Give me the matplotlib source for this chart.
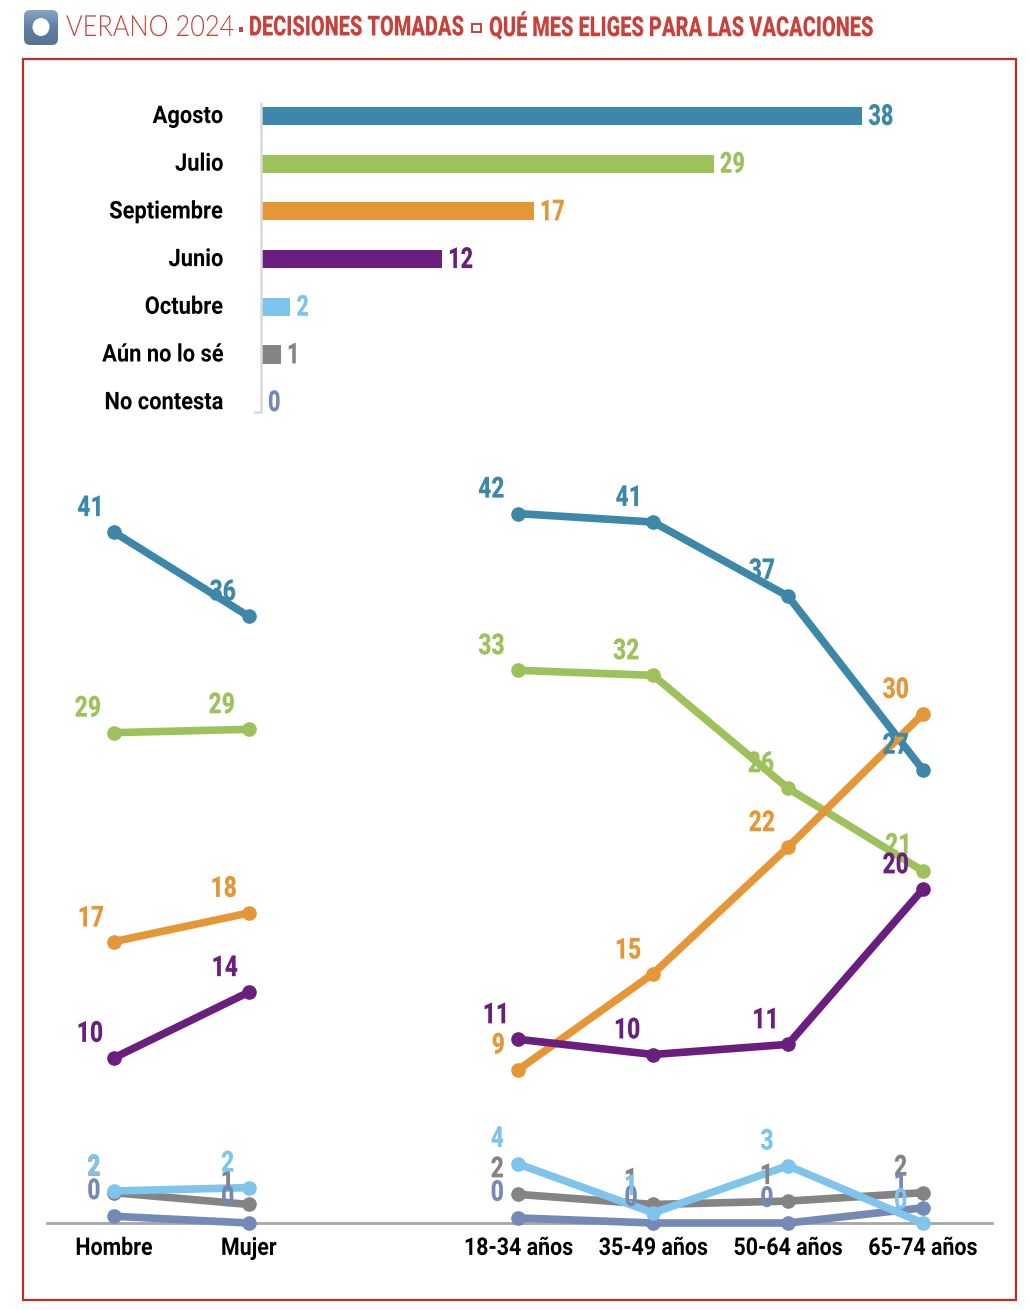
#!/usr/bin/env python3
"""Verano 2024: que mes eliges para las vacaciones (bars + slope lines)."""
import numpy as np
import matplotlib
matplotlib.use("Agg")
import matplotlib.pyplot as plt
from matplotlib.patches import FancyBboxPatch, Rectangle, Ellipse
from matplotlib.patheffects import AbstractPathEffect
from matplotlib.transforms import Affine2D, ScaledTranslation

W, H = 1030, 1310
RED, RED2 = "#B83224", "#C8413A"
TEAL, GREEN, ORANGE, PURPLE = "#3D88A8", "#9DC15B", "#E59737", "#6A1F7E"
SKY, GREY, SLATE = "#7EC4EC", "#848484", "#7489B5"
COLORS = [TEAL, GREEN, ORANGE, PURPLE, SKY, GREY, SLATE]
FONT = "Roboto"

# ---------- data ----------
CATS = ["Agosto", "Julio", "Septiembre", "Junio", "Octubre", "Aún no lo sé", "No contesta"]
BAR_VALS = [38.0, 28.6, 17.2, 11.4, 1.8, 1.2, 0.0]
BAR_TXT = ["38", "29", "17", "12", "2", "1", "0"]

GROUPS = ["Hombre", "Mujer", "18-34 años", "35-49 años", "50-64 años", "65-74 años"]
AGOSTO = [41.0, 36.0, 42.1, 41.6, 37.2, 26.9]
JULIO = [29.1, 29.3, 32.8, 32.5, 25.8, 20.9]
SEPTIEMBRE = [16.7, 18.4, 9.1, 14.8, 22.3, 30.2]
JUNIO = [9.8, 13.7, 10.9, 10.0, 10.6, 19.8]
OCTUBRE = [1.9, 2.1, 3.5, 0.6, 3.4, 0.0]
NOSE = [1.8, 1.1, 1.7, 1.1, 1.3, 1.8]
NC = [0.4, 0.0, 0.3, 0.0, 0.0, 0.9]
SERIES = [AGOSTO, JULIO, SEPTIEMBRE, JUNIO, OCTUBRE, NOSE, NC]
SHOWN = [[41, 36, 42, 41, 37, 27], [29, 29, 33, 32, 26, 21], [17, 18, 9, 15, 22, 30],
         [10, 14, 11, 10, 11, 20], [2, 2, 4, 1, 3, 0], [2, 1, 2, 1, 1, 2], [0, 0, 0, 0, 0, 1]]
XPOS = [0, 1, 3, 4, 5, 6]  # gap between the two panels

# label offsets from each point, pixels (dx, dy up)
OFFS = [[(-23, 24), (-26, 24), (-27, 24), (-24, 24), (-26, 25), (-27, 24)],
        [(-26, 24), (-27, 24), (-27, 24), (-27, 24), (-27, 24), (-24, 25)],
        [(-23, 23), (-25, 24), (-20, 24), (-25, 23), (-26, 24), (-27, 24)],
        [(-24, 24), (-24, 24), (-22, 24), (-26, 24), (-22, 24), (-27, 24)],
        [(-20, 24), (-21, 24), (-21, 25), (-22, 26), (-21, 24), (-22, 22)],
        [(-20, 25), (-21, 22), (-21, 25), (-22, 24), (-21, 25), (-22, 25)],
        [(-20, 25), (-21, 25), (-21, 25), (-22, 25), (-21, 24), (-22, 23)]]


class Squeeze(AbstractPathEffect):
    """Narrow a text horizontally, no condensed font is installed."""
    def __init__(self, sx, anchor="center"):
        super().__init__()
        self.sx, self.anchor = sx, anchor

    def draw_path(self, renderer, gc, tpath, affine, rgbFace=None):
        xs = tpath.vertices[:, 0]
        p = {"left": xs.min(), "right": xs.max(), "center": (xs.min() + xs.max()) / 2}[self.anchor]
        aff = Affine2D().translate(-p, 0).scale(self.sx, 1).translate(p, 0) + affine
        renderer.draw_path(gc, tpath, aff, rgbFace)


def px_axes(fig, left, top, right, bottom):
    return fig.add_axes([left / W, 1 - bottom / H, (right - left) / W, (bottom - top) / H])


fig = plt.figure(figsize=(W / 100, H / 100), dpi=100)
fig.patch.set_facecolor("white")

# ---------- frame, icon, title ----------
bg = fig.add_axes([0, 0, 1, 1]); bg.set_xlim(0, W); bg.set_ylim(H, 0); bg.axis("off")
bg.add_patch(Rectangle((22.5, 59), 993, 1241, fc="none", ec=RED, lw=1.6))
grad = np.linspace(0, 1, 64).reshape(-1, 1)
im = bg.imshow(grad, extent=(24, 58, 45, 10), cmap=matplotlib.colors.LinearSegmentedColormap.from_list(
    "ic", ["#86A4C4", "#5F7FA3", "#5A7390"]), aspect="auto", zorder=2)
clip = FancyBboxPatch((28, 14), 26, 27, boxstyle="round,pad=4,rounding_size=6", fc="none", ec="none")
bg.add_patch(clip); im.set_clip_path(clip)
bg.set_xlim(0, W); bg.set_ylim(H, 0)
bg.add_patch(Ellipse((41, 27), 17, 18, fc="white", ec="none", zorder=3))
bg.text(66, 28, "VERANO 2024", color=RED2, fontsize=21, family="Lato", fontweight=300, va="center",
        path_effects=[Squeeze(0.87, "left")])
bg.add_patch(Rectangle((238.5, 27), 4, 5, fc=RED2, ec="none"))
bg.text(249, 28, "DECISIONES TOMADAS", color=RED2, fontsize=20, family=FONT, fontweight=900, va="center",
        path_effects=[Squeeze(0.72, "left")])
bg.add_patch(Rectangle((472, 24), 9, 8, fc="none", ec=RED2, lw=1.4))
bg.text(489, 28, "QUÉ MES ELIGES PARA LAS VACACIONES", color=RED2, fontsize=20, family=FONT,
        fontweight=900, va="center", path_effects=[Squeeze(0.72, "left")])

# ---------- bars ----------
ax = px_axes(fig, 262, 103, 1000, 412)
y = np.arange(len(CATS))
ax.barh(y, BAR_VALS, height=0.38, color=COLORS)
ax.set_xlim(0, 738 / 15.8); ax.set_ylim((412 - 116) / 47.7, (103 - 116) / 47.7)
ax.patch.set_alpha(0)
for s in ("top", "right", "bottom"): ax.spines[s].set_visible(False)
ax.spines["left"].set_color("#DADADA"); ax.spines["left"].set_linewidth(1.8)
ax.spines["left"].set_position(("outward", 1))
ax.set_xticks([]); ax.set_yticks(y)
ax.set_yticklabels(CATS, family=FONT, fontweight="bold", fontsize=17.5, path_effects=[Squeeze(0.9, "right")])
ax.tick_params(axis="y", length=0, pad=27)
for lab in ax.get_yticklabels():
    lab.set_transform(lab.get_transform() + ScaledTranslation(0, 0.02, fig.dpi_scale_trans))
ax.plot([-7 / 15.8, -1 / 15.8], [6.2, 6.2], color="#DADADA", lw=1.8, clip_on=False)
for i, (v, t) in enumerate(zip(BAR_VALS, BAR_TXT)):
    ax.annotate(t, (v, i), xytext=(6, -1), textcoords="offset pixels", color=COLORS[i], family=FONT,
                fontweight=900, fontsize=21, va="center", ha="left", path_effects=[Squeeze(0.74, "left")])

# ---------- lines ----------
la = px_axes(fig, 47, 470, 992, 1223)
la.patch.set_alpha(0)
la.set_xlim((47 - 114) / 134.8, (992 - 114) / 134.8); la.set_ylim(0, (1223 - 470) / 16.85)
for s in ("top", "right", "left"): la.spines[s].set_visible(False)
la.spines["bottom"].set_color("#A6A6A6"); la.spines["bottom"].set_linewidth(2)
la.set_yticks([]); la.set_xticks(XPOS)
la.set_xticklabels(GROUPS, family=FONT, fontweight="bold", fontsize=17.5, path_effects=[Squeeze(0.88)])
la.tick_params(axis="x", length=0, pad=10)
draw = [0, 1, 2, 3, 5, 6, 4]  # light blue sits over grey and slate
for i in draw:
    vals = SERIES[i]
    for xs, ys in ((XPOS[:2], vals[:2]), (XPOS[2:], vals[2:])):
        la.plot(xs, ys, "-o", color=COLORS[i], lw=5.5, ms=9.5, clip_on=False, zorder=3 + draw.index(i) * 0.1)
for i in draw:
    for x, v, t, off in zip(XPOS, SERIES[i], SHOWN[i], OFFS[i]):
        la.annotate(str(t), (x, v), xytext=off, textcoords="offset pixels", color=COLORS[i], family=FONT,
                    fontweight=900, fontsize=21, ha="center", va="center", zorder=5,
                    annotation_clip=False, path_effects=[Squeeze(0.78)])

fig.savefig("out.png", dpi=100, facecolor="white")
